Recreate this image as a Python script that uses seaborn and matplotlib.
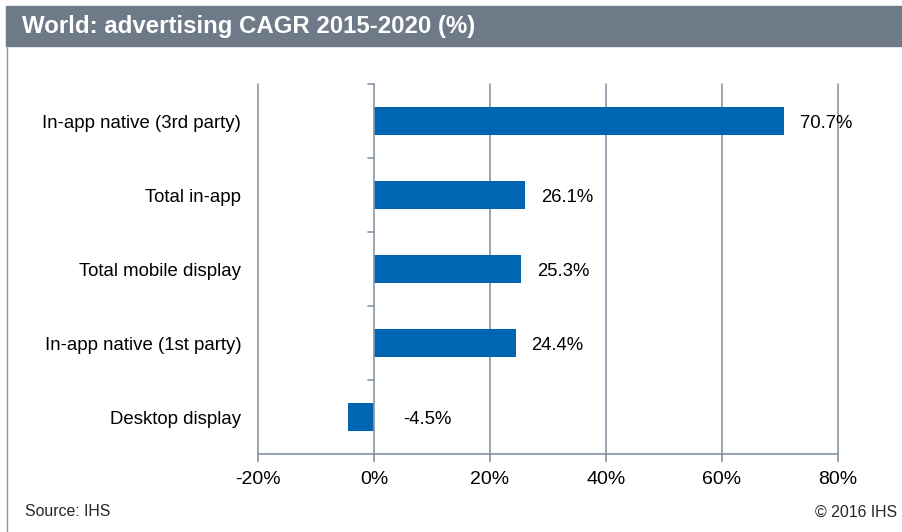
import pandas as pd
import matplotlib.pyplot as plt
import seaborn as sns
from matplotlib.patches import Rectangle
from matplotlib.lines import Line2D
from matplotlib.ticker import FuncFormatter

# data
categories = ['In-app native (3rd party)', 'Total in-app', 'Total mobile display',
              'In-app native (1st party)', 'Desktop display']
cagr = [70.7, 26.1, 25.3, 24.4, -4.5]

df = pd.DataFrame({'segment': categories, 'cagr': cagr})

sns.set_theme(style='white')
plt.rcParams['font.family'] = ['Liberation Sans', 'DejaVu Sans']

grid_col = '#8a95a5'
fig = plt.figure(figsize=(9.02, 5.32), dpi=100)
ax = fig.add_axes([258 / 902, 78 / 532, 580 / 902, 370 / 532])

sns.barplot(data=df, x='cagr', y='segment', orient='h', color='#0066b3',
            width=0.39, saturation=1, linewidth=0, ax=ax, zorder=3)

ax.set_xlabel('')
ax.set_ylabel('')
for s in ['top', 'right', 'left']:
    ax.spines[s].set_visible(False)
ax.spines['bottom'].set_color(grid_col)
ax.tick_params(axis='x', bottom=True, length=6, color=grid_col, labelsize=14,
               pad=6, labelcolor='black')
ax.tick_params(axis='y', left=False, length=0, labelsize=13.4, pad=12, labelcolor='black')

# vertical gridlines, drawn unclipped so the 80% line shows fully
for g in range(-20, 81, 20):
    ax.axvline(g, color=grid_col, lw=1.2, zorder=2 if g else 4, clip_on=False)

# category tick marks sitting on the 0% axis
for k in range(len(categories)):
    ax.plot([-1.05, 0], [k - 0.5, k - 0.5], color=grid_col, lw=1.2, zorder=4, clip_on=False)

# value labels
for i, v in enumerate(cagr):
    off = 16 if v >= 0 else 29
    ax.annotate(f'{v:.1f}%', (max(v, 0), i), xytext=(off * 0.72, 0),
                textcoords='offset points', ha='left', va='center_baseline', fontsize=13.3,
                color='black', zorder=5)

ax.set_xlim(-20, 80)
ax.set_xticks(range(-20, 81, 20))
ax.xaxis.set_major_formatter(FuncFormatter(lambda v, p: f'{v:.0f}%'))
ax.set_ylim(len(categories) - 0.5, -0.5)

# title bar and frame
fig.patches.append(Rectangle((6 / 902, 486 / 532), 896 / 902, 40 / 532,
                             transform=fig.transFigure, color='#6f7a89', zorder=0))
fig.lines.append(Line2D([6.5 / 902, 6.5 / 902], [0, 486 / 532], transform=fig.transFigure,
                        color='#8a95a5', lw=1))
fig.text(22 / 902, 505 / 532, 'World: advertising CAGR 2015-2020 (%)', color='white',
         fontsize=17.3, fontweight='bold', va='center', ha='left')

fig.text(25 / 902, 20 / 532, 'Source: IHS', fontsize=11.4, va='center', ha='left')
fig.text(897 / 902, 20 / 532, '\u00a9 2016 IHS', fontsize=11.4, va='center', ha='right')

fig.savefig('out.png', dpi=100)
